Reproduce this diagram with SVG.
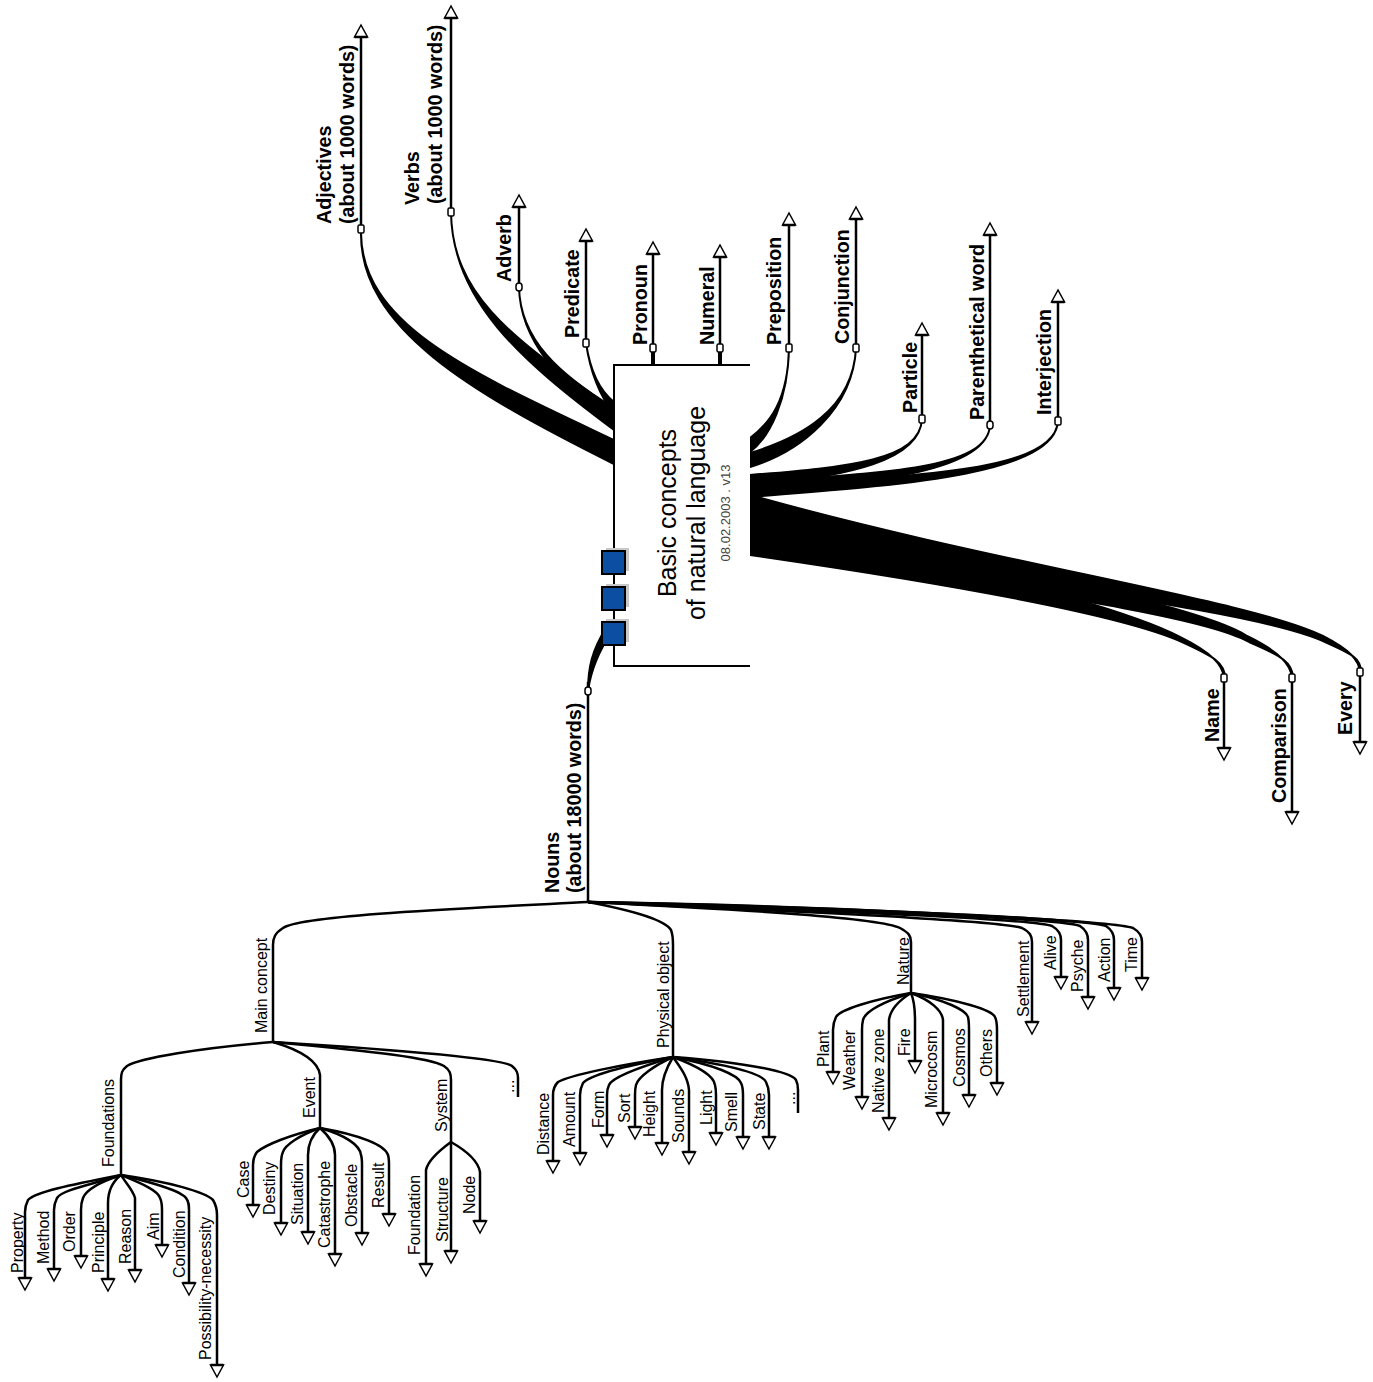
<svg xmlns="http://www.w3.org/2000/svg" width="1373" height="1382" viewBox="0 0 1373 1382">
<style>
text{font-family:"Liberation Sans",Arial,sans-serif;fill:#000}
.b{font-size:19.7px;font-weight:bold}
.s{font-size:16px}
.t{font-size:25px}
.v{font-size:13px;fill:#444}
.ln{fill:none;stroke:#000;stroke-width:2.5}
.st{fill:none;stroke:#000;stroke-width:2.5;marker-end:url(#a)}
.bd{fill:#000;stroke:#000;stroke-width:2;stroke-linejoin:round}
.nd{fill:#fff;stroke:#000;stroke-width:1.5}
.sq{fill:#0b4ea2;stroke:#000;stroke-width:2}
.sh{fill:#c8c8c8}
</style>
<defs>
<marker id="a" markerUnits="userSpaceOnUse" orient="auto" refX="0" refY="0" markerWidth="14" markerHeight="16" overflow="visible">
<path d="M0,-6.5 L12,0 L0,6.5 Z" fill="#fff" stroke="#000" stroke-width="1.5"/>
<path d="M0,-6.5 L0,6.5" stroke="#000" stroke-width="2.5"/>
</marker>
</defs>
<rect width="1373" height="1382" fill="#fff"/>

<g id="connectors">
<path class="bd" d="M361,233 C362,325 470,372 614,440 L614,464 C470,392 360,328 361,233Z"/>
<path class="bd" d="M451,212 C452,300 520,342 614,410 L614,430 C520,360 452,300 451,212Z"/>
<path class="bd" d="M519,287 C520,340 560,375 614,408 L614,420 C560,385 520,340 519,287Z"/>
<path class="bd" d="M586,343 C590,370 600,391 614,402 L614,412 C600,399 590,370 586,343Z"/>
<path class="bd" d="M789,348 C788,400 770,423 750,438 L750,452 C770,437 788,400 789,348Z"/>
<path class="bd" d="M856,348 C853,410 800,438 750,453 L750,467 C800,452 853,410 856,348Z"/>
<path class="bd" d="M922,419 C920,460 850,467 750,475 L750,485 C850,477 920,460 922,419Z"/>
<path class="bd" d="M990,425 C988,470 880,473 750,482 L750,492 C880,483 988,470 990,425Z"/>
<path class="bd" d="M1058,421 C1055,475 900,475 750,487 L750,497 C900,485 1055,475 1058,421Z"/>
<path class="bd" d="M750,512 C950,566 1120,605 1180,637 C1212,653 1223,665 1224,678 L1225,678 C1225,663 1213,656 1182,642 C1120,614 950,584 750,555Z"/>
<path class="bd" d="M750,505 C1000,570 1200,605 1247,636 C1280,652 1291,665 1292,678 L1293,678 C1293,663 1282,656 1249,642 C1200,614 1000,588 750,548Z"/>
<path class="bd" d="M750,495 C1000,565 1250,600 1323,636 C1350,650 1359,660 1360,672 L1361,672 C1361,658 1352,654 1325,642 C1250,608 1000,583 750,540Z"/>
<path class="bd" d="M588,691 C588,668 592,650 606,628 L612,632 C598,652 591,670 588,691Z"/>
<path class="st" d="M361,229 V37"/>
<path class="st" d="M451,212 V18"/>
<path class="st" d="M519,287 V207"/>
<path class="st" d="M586,343 V241"/>
<path class="st" d="M653,348 V254"/>
<path class="st" d="M720,348 V257"/>
<path class="st" d="M789,348 V225"/>
<path class="st" d="M856,348 V219"/>
<path class="st" d="M922,419 V335"/>
<path class="st" d="M990,425 V235"/>
<path class="st" d="M1058,421 V302"/>
<path class="st" d="M1224,678 V748"/>
<path class="st" d="M1292,678 V812"/>
<path class="st" d="M1360,672 V742"/>
<path d="M653,348 V365 M720,348 V365" stroke="#000" stroke-width="4"/>
<path class="ln" d="M588,682 V902"/>
<path class="ln" d="M588,902 C470,908 300,915 283,928 C275,933 273,938 273,945 V1042"/>
<path class="ln" d="M588,902 C630,910 665,920 671,930 C673,935 673,938 673,945 V1057"/>
<path class="ln" d="M588,902 C750,910 880,918 900,928 C909,933 911,936 911,942 V993"/>
<path class="st" d="M588,902 C800,912 1000,920 1022,928 C1030,932 1032,936 1032,942 V1022"/>
<path class="st" d="M588,902 C800,910 1030,918 1052,926 C1059,930 1061,934 1061,940 V977"/>
<path class="st" d="M588,902 C800,908 1060,918 1080,926 C1086,930 1088,934 1088,940 V997"/>
<path class="st" d="M588,902 C800,906 1085,918 1106,926 C1112,930 1114,934 1114,940 V988"/>
<path class="st" d="M588,902 C800,905 1110,920 1133,928 C1140,932 1142,936 1142,942 V978"/>
<path class="ln" d="M273,1042 C200,1048 140,1058 127,1066 C122,1070 121,1073 121,1080 V1175"/>
<path class="ln" d="M273,1042 C300,1050 318,1060 320,1075 V1128"/>
<path class="ln" d="M273,1042 C380,1052 430,1058 444,1066 C450,1070 451,1074 451,1080 V1142"/>
<path class="ln" d="M273,1042 C400,1050 502,1058 512,1066 C517,1070 518,1073 518,1078 V1097"/>
<path class="st" d="M121,1175 C70,1185 35,1192 28,1200 C26,1204 25,1207 25,1212 V1278"/>
<path class="st" d="M121,1175 C90,1185 62,1190 57,1198 C55,1202 54,1205 54,1210 V1269"/>
<path class="st" d="M121,1175 C100,1182 86,1190 83,1198 C81,1203 81,1205 81,1210 V1256"/>
<path class="st" d="M121,1175 C112,1182 108,1192 108,1203 V1279"/>
<path class="st" d="M121,1175 C125,1182 133,1190 135,1198 V1270"/>
<path class="st" d="M121,1175 C140,1183 158,1190 160,1198 C162,1202 162,1205 162,1210 V1245"/>
<path class="st" d="M121,1175 C150,1182 180,1190 186,1198 C189,1202 189,1205 189,1210 V1283"/>
<path class="st" d="M121,1175 C170,1182 205,1192 213,1200 C216,1205 217,1208 217,1215 V1365"/>
<path class="st" d="M320,1128 C290,1135 265,1145 257,1152 C254,1156 253,1159 253,1165 V1205"/>
<path class="st" d="M320,1128 C300,1135 285,1145 283,1152 C281,1156 281,1159 281,1165 V1223"/>
<path class="st" d="M320,1128 C312,1135 308,1143 308,1155 V1232"/>
<path class="st" d="M320,1128 C328,1135 335,1143 335,1155 V1254"/>
<path class="st" d="M320,1128 C345,1135 360,1145 361,1155 C362,1158 362,1160 362,1165 V1233"/>
<path class="st" d="M320,1128 C360,1135 385,1145 388,1155 C389,1158 389,1160 389,1165 V1214"/>
<path class="st" d="M451,1142 C440,1150 428,1160 426,1170 V1264"/>
<path class="st" d="M451,1142 V1251"/>
<path class="st" d="M451,1142 C465,1150 478,1160 480,1172 V1221"/>
<path class="st" d="M673,1057 C620,1065 570,1075 558,1082 C554,1086 553,1089 553,1095 V1161"/>
<path class="st" d="M673,1057 C630,1065 590,1075 583,1083 C581,1087 580,1090 580,1095 V1153"/>
<path class="st" d="M673,1057 C640,1067 612,1077 609,1085 C607,1089 607,1091 607,1095 V1135"/>
<path class="st" d="M673,1057 C655,1065 638,1077 636,1085 C635,1089 635,1091 635,1095 V1127"/>
<path class="st" d="M673,1057 C667,1067 662,1077 662,1090 V1143"/>
<path class="st" d="M673,1057 C680,1067 688,1077 689,1090 V1152"/>
<path class="st" d="M673,1057 C700,1067 714,1077 715,1085 C716,1089 716,1091 716,1095 V1133"/>
<path class="st" d="M673,1057 C715,1065 738,1075 741,1083 C743,1087 743,1090 743,1095 V1137"/>
<path class="st" d="M673,1057 C730,1065 762,1073 766,1082 C768,1086 769,1090 769,1095 V1137"/>
<path class="ln" d="M673,1057 C750,1063 791,1072 796,1080 C798,1084 798,1086 798,1090 V1113"/>
<path class="st" d="M911,993 C870,1000 840,1010 836,1017 C834,1021 833,1024 833,1030 V1072"/>
<path class="st" d="M911,993 C880,1003 865,1012 863,1020 C862,1024 862,1026 862,1030 V1097"/>
<path class="st" d="M911,993 C895,1003 890,1012 889,1020 V1118"/>
<path class="st" d="M911,993 C914,1000 915,1010 915,1020 V1061"/>
<path class="st" d="M911,993 C930,1000 942,1010 943,1020 V1113"/>
<path class="st" d="M911,993 C945,1000 966,1010 968,1017 C969,1021 969,1024 969,1030 V1095"/>
<path class="st" d="M911,993 C960,1000 992,1010 995,1017 C997,1021 997,1024 997,1030 V1083"/>
</g>

<g id="center">
<path d="M750,365 H614 V666 H750" fill="#fff" stroke="#000" stroke-width="2"/>
<text class="t" text-anchor="middle" transform="translate(676,513) rotate(-90)">Basic concepts</text>
<text class="t" text-anchor="middle" transform="translate(705,513) rotate(-90)">of natural language</text>
<text class="v" text-anchor="middle" transform="translate(730,513) rotate(-90)">08.02.2003 . v13</text>
<rect class="sh" x="606" y="548" width="23" height="23"/>
<rect class="sq" x="602" y="551" width="23" height="23"/>
<rect class="sh" x="606" y="584" width="23" height="23"/>
<rect class="sq" x="602" y="587" width="23" height="23"/>
<rect class="sh" x="606" y="619" width="23" height="23"/>
<rect class="sq" x="602" y="622" width="23" height="23"/>
</g>

<g id="node-markers">
<rect class="nd" x="358" y="225" width="6" height="8" rx="1.5"/>
<rect class="nd" x="448" y="208" width="6" height="8" rx="1.5"/>
<rect class="nd" x="516" y="283" width="6" height="8" rx="3"/>
<rect class="nd" x="583" y="339" width="6" height="8" rx="1.5"/>
<rect class="nd" x="650" y="344" width="6" height="8" rx="1.5"/>
<rect class="nd" x="717" y="344" width="6" height="8" rx="1.5"/>
<rect class="nd" x="786" y="344" width="6" height="8" rx="1.5"/>
<rect class="nd" x="853" y="344" width="6" height="8" rx="1.5"/>
<rect class="nd" x="919" y="415" width="6" height="8" rx="1.5"/>
<rect class="nd" x="987" y="421" width="6" height="8" rx="3"/>
<rect class="nd" x="1055" y="417" width="6" height="8" rx="1.5"/>
<rect class="nd" x="1221" y="674" width="6" height="8" rx="1.5"/>
<rect class="nd" x="1289" y="674" width="6" height="8" rx="1.5"/>
<rect class="nd" x="1357" y="668" width="6" height="8" rx="1.5"/>
<rect class="nd" x="585" y="687" width="6" height="8" rx="3"/>
</g>

<g id="n-adjectives"><text class="b" transform="translate(331,224) rotate(-90)">Adjectives</text><text class="b" transform="translate(354,224) rotate(-90)">(about 1000 words)</text></g>
<g id="n-verbs"><text class="b" transform="translate(419,205) rotate(-90)">Verbs</text><text class="b" transform="translate(442,204) rotate(-90)">(about 1000 words)</text></g>
<g id="n-adverb"><text class="b" transform="translate(511,282) rotate(-90)">Adverb</text></g>
<g id="n-predicate"><text class="b" transform="translate(579,338) rotate(-90)">Predicate</text></g>
<g id="n-pronoun"><text class="b" transform="translate(647,345) rotate(-90)">Pronoun</text></g>
<g id="n-numeral"><text class="b" transform="translate(714,345) rotate(-90)">Numeral</text></g>
<g id="n-preposition"><text class="b" transform="translate(781,345) rotate(-90)">Preposition</text></g>
<g id="n-conjunction"><text class="b" transform="translate(849,344) rotate(-90)">Conjunction</text></g>
<g id="n-particle"><text class="b" transform="translate(917,413) rotate(-90)">Particle</text></g>
<g id="n-parenthetical"><text class="b" transform="translate(984,420) rotate(-90)">Parenthetical word</text></g>
<g id="n-interjection"><text class="b" transform="translate(1051,415) rotate(-90)">Interjection</text></g>
<g id="n-name"><text class="b" transform="translate(1219,742) rotate(-90)">Name</text></g>
<g id="n-comparison"><text class="b" transform="translate(1286,803) rotate(-90)">Comparison</text></g>
<g id="n-every"><text class="b" transform="translate(1352,735) rotate(-90)">Every</text></g>
<g id="n-nouns"><text class="b" transform="translate(559,893) rotate(-90)">Nouns</text><text class="b" transform="translate(581,893) rotate(-90)">(about 18000 words)</text></g>

<g id="n-main-concept"><text class="s" transform="translate(266.5,1033) rotate(-90)">Main concept</text></g>
<g id="n-physical-object"><text class="s" transform="translate(668.5,1048) rotate(-90)">Physical object</text></g>
<g id="n-nature"><text class="s" transform="translate(908.5,985) rotate(-90)">Nature</text></g>
<g id="n-settlement"><text class="s" transform="translate(1028.5,1017) rotate(-90)">Settlement</text></g>
<g id="n-alive"><text class="s" transform="translate(1055.5,970) rotate(-90)">Alive</text></g>
<g id="n-psyche"><text class="s" transform="translate(1082.5,992) rotate(-90)">Psyche</text></g>
<g id="n-action"><text class="s" transform="translate(1109.5,982) rotate(-90)">Action</text></g>
<g id="n-time"><text class="s" transform="translate(1136.5,972) rotate(-90)">Time</text></g>

<g id="n-foundations"><text class="s" transform="translate(113.5,1167) rotate(-90)">Foundations</text></g>
<g id="n-event"><text class="s" transform="translate(314.5,1118) rotate(-90)">Event</text></g>
<g id="n-system"><text class="s" transform="translate(446.5,1132) rotate(-90)">System</text></g>
<g id="n-more1"><text class="s" transform="translate(514,1093) rotate(-90)">...</text></g>

<g id="n-property"><text class="s" transform="translate(22.5,1273) rotate(-90)">Property</text></g>
<g id="n-method"><text class="s" transform="translate(48.5,1264) rotate(-90)">Method</text></g>
<g id="n-order"><text class="s" transform="translate(74.5,1252) rotate(-90)">Order</text></g>
<g id="n-principle"><text class="s" transform="translate(103.5,1273) rotate(-90)">Principle</text></g>
<g id="n-reason"><text class="s" transform="translate(130.5,1264) rotate(-90)">Reason</text></g>
<g id="n-aim"><text class="s" transform="translate(158.5,1240) rotate(-90)">Aim</text></g>
<g id="n-condition"><text class="s" transform="translate(184.5,1278) rotate(-90)">Condition</text></g>
<g id="n-possibility"><text class="s" transform="translate(210.5,1360) rotate(-90)">Possibility-necessity</text></g>

<g id="n-case"><text class="s" transform="translate(248.5,1198) rotate(-90)">Case</text></g>
<g id="n-destiny"><text class="s" transform="translate(274.5,1215) rotate(-90)">Destiny</text></g>
<g id="n-situation"><text class="s" transform="translate(302.5,1225) rotate(-90)">Situation</text></g>
<g id="n-catastrophe"><text class="s" transform="translate(329.5,1248) rotate(-90)">Catastrophe</text></g>
<g id="n-obstacle"><text class="s" transform="translate(356.5,1227) rotate(-90)">Obstacle</text></g>
<g id="n-result"><text class="s" transform="translate(383.5,1208) rotate(-90)">Result</text></g>

<g id="n-foundation"><text class="s" transform="translate(419.5,1255) rotate(-90)">Foundation</text></g>
<g id="n-structure"><text class="s" transform="translate(447.5,1242) rotate(-90)">Structure</text></g>
<g id="n-node"><text class="s" transform="translate(474.5,1214) rotate(-90)">Node</text></g>

<g id="n-distance"><text class="s" transform="translate(548.5,1155) rotate(-90)">Distance</text></g>
<g id="n-amount"><text class="s" transform="translate(574.5,1147) rotate(-90)">Amount</text></g>
<g id="n-form"><text class="s" transform="translate(603.5,1128) rotate(-90)">Form</text></g>
<g id="n-sort"><text class="s" transform="translate(629.5,1123) rotate(-90)">Sort</text></g>
<g id="n-height"><text class="s" transform="translate(654.5,1137) rotate(-90)">Height</text></g>
<g id="n-sounds"><text class="s" transform="translate(683.5,1143) rotate(-90)">Sounds</text></g>
<g id="n-light"><text class="s" transform="translate(711.5,1125) rotate(-90)">Light</text></g>
<g id="n-smell"><text class="s" transform="translate(736.5,1132) rotate(-90)">Smell</text></g>
<g id="n-state"><text class="s" transform="translate(764.5,1130) rotate(-90)">State</text></g>
<g id="n-more2"><text class="s" transform="translate(795,1105) rotate(-90)">...</text></g>

<g id="n-plant"><text class="s" transform="translate(828.5,1067) rotate(-90)">Plant</text></g>
<g id="n-weather"><text class="s" transform="translate(854.5,1090) rotate(-90)">Weather</text></g>
<g id="n-native-zone"><text class="s" transform="translate(883.5,1113) rotate(-90)">Native zone</text></g>
<g id="n-fire"><text class="s" transform="translate(909.5,1056) rotate(-90)">Fire</text></g>
<g id="n-microcosm"><text class="s" transform="translate(936.5,1108) rotate(-90)">Microcosm</text></g>
<g id="n-cosmos"><text class="s" transform="translate(964.5,1087) rotate(-90)">Cosmos</text></g>
<g id="n-others"><text class="s" transform="translate(991.5,1077) rotate(-90)">Others</text></g>
</svg>
